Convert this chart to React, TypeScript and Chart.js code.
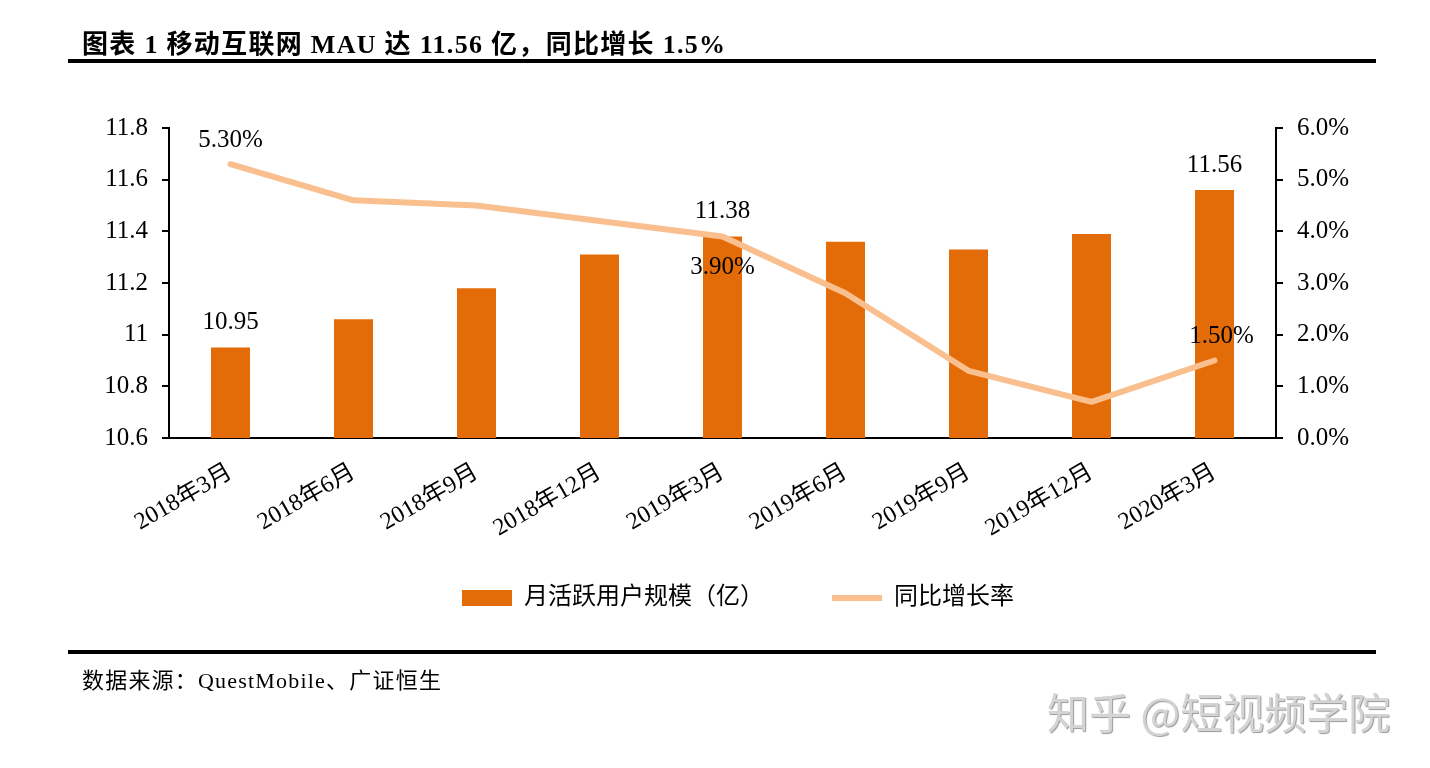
import React, { useEffect, useRef } from "react";
import { Chart, registerables } from "chart.js";

Chart.register(...registerables);

const categories = ["2018年3月", "2018年6月", "2018年9月", "2018年12月", "2019年3月", "2019年6月", "2019年9月", "2019年12月", "2020年3月"];
const mauValues = [10.95, 11.06, 11.18, 11.31, 11.38, 11.36, 11.33, 11.39, 11.56];
const growthValues = [5.3, 4.6, 4.5, 4.2, 3.9, 2.8, 1.3, 0.7, 1.5];
const barLabelIndices = [0, 4, 8];
const lineLabelIndices = [0, 4, 8];
const lineLabelBelow = [false, true, false];
const leftTicks = { min: 10.6, max: 11.8, step: 0.2 };
const rightTicks = { min: 0, max: 6, step: 1 };

const SERIF = "'Liberation Serif', 'Times New Roman', 'Noto Sans CJK SC', serif";
const BAR_COLOR = "#E36C09";
const LINE_COLOR = "#F9BF8F";
const LEGEND_SHIFT = 30;

const labelPlugin = {
  id: "valueLabels",
  afterLayout(chart: any) {
    const lg = chart.legend;
    if (lg) {
      lg.top -= LEGEND_SHIFT;
      lg.bottom -= LEGEND_SHIFT;
    }
  },
  afterDatasetsDraw(chart: any) {
    const ctx = chart.ctx;
    ctx.save();
    ctx.font = `25px ${SERIF}`;
    ctx.fillStyle = "#000";
    ctx.textAlign = "center";
    ctx.textBaseline = "middle";
    const barMeta = chart.getDatasetMeta(0);
    barLabelIndices.forEach((i) => {
      const el = barMeta.data[i];
      ctx.fillText(mauValues[i].toFixed(2), el.x, el.y - 25);
    });
    const lineMeta = chart.getDatasetMeta(1);
    lineLabelIndices.forEach((i, k) => {
      const el = lineMeta.data[i];
      const below = lineLabelBelow[k];
      const dx = i === categories.length - 1 ? 7 : 0;
      ctx.fillText(growthValues[i].toFixed(2) + "%", el.x + dx, below ? el.y + 31 : el.y - 24);
    });
    ctx.restore();
  },
};

export default function App() {
  const ref = useRef<HTMLCanvasElement>(null);

  useEffect(() => {
    if (!ref.current) return;
    const chart = new Chart(ref.current, {
      type: "bar",
      data: {
        labels: categories,
        datasets: [
          {
            type: "bar",
            label: "月活跃用户规模（亿）",
            data: mauValues,
            backgroundColor: BAR_COLOR,
            borderWidth: 0,
            yAxisID: "y",
            order: 1,
            categoryPercentage: 1,
            barPercentage: 0.317,
            pointStyle: "rect",
          } as any,
          {
            type: "line",
            label: "同比增长率",
            data: growthValues,
            borderColor: LINE_COLOR,
            backgroundColor: LINE_COLOR,
            borderWidth: 6,
            borderCapStyle: "round",
            borderJoinStyle: "round",
            pointRadius: 0,
            pointHoverRadius: 0,
            tension: 0,
            yAxisID: "y1",
            order: 0,
            pointStyle: "line",
          } as any,
        ],
      },
      options: {
        responsive: false,
        animation: false,
        events: [],
        layout: { padding: { top: 128, bottom: 148 - LEGEND_SHIFT, left: 46, right: 0 } },
        plugins: {
          tooltip: { enabled: false },
          title: { display: false },
          legend: {
            position: "bottom",
            labels: {
              usePointStyle: true,
              pointStyleWidth: 50,
              boxHeight: 16,
              padding: 68,
              color: "#000",
              font: { size: 24, family: SERIF },
              sort: (a: any, b: any) => a.datasetIndex - b.datasetIndex,
            },
          },
        },
        scales: {
          x: {
            offset: true,
            grid: { display: false, drawTicks: false },
            border: { display: true, color: "#000", width: 2 },
            ticks: {
              minRotation: 30,
              maxRotation: 30,
              padding: 20,
              color: "#000",
              font: { size: 24, family: SERIF },
              autoSkip: false,
            },
            afterFit: (s: any) => {
              s.height = 80 + LEGEND_SHIFT;
            },
          },
          y: {
            position: "left",
            min: leftTicks.min,
            max: leftTicks.max,
            grid: { drawOnChartArea: false, drawTicks: true, tickLength: 7, color: "#000", lineWidth: 2 },
            border: { display: true, color: "#000", width: 2 },
            ticks: {
              stepSize: leftTicks.step,
              padding: 14,
              color: "#000",
              font: { size: 25, family: SERIF },
              callback: (v: any) => String(Math.round(Number(v) * 10) / 10),
            },
            afterFit: (s: any) => {
              s.width = 123;
            },
          },
          y1: {
            position: "right",
            min: rightTicks.min,
            max: rightTicks.max,
            grid: { drawOnChartArea: false, drawTicks: true, tickLength: 7, color: "#000", lineWidth: 2 },
            border: { display: true, color: "#000", width: 2 },
            ticks: {
              stepSize: rightTicks.step,
              padding: 14,
              color: "#000",
              font: { size: 25, family: SERIF },
              callback: (v: any) => Number(v).toFixed(1) + "%",
            },
            afterFit: (s: any) => {
              s.width = 154;
            },
          },
        },
      },
      plugins: [labelPlugin],
    });
    return () => chart.destroy();
  }, []);

  return (
    <div style={{ position: "absolute", left: 0, top: 0, width: 1430, height: 768, background: "#fff", overflow: "hidden" }}>
      <canvas ref={ref} width={1430} height={768} style={{ position: "absolute", left: 0, top: 0 }} />
      <div
        style={{
          position: "absolute",
          left: 82,
          top: 23,
          fontFamily: SERIF,
          fontWeight: "bold",
          fontSize: 26,
          letterSpacing: 1.3,
          color: "#000",
          whiteSpace: "nowrap",
        }}
      >
        图表 1 移动互联网 MAU 达 11.56 亿，同比增长 1.5%
      </div>
      <div style={{ position: "absolute", left: 68, top: 59, width: 1308, height: 4, background: "#000" }} />
      <div style={{ position: "absolute", left: 68, top: 650, width: 1308, height: 4, background: "#000" }} />
      <div
        style={{
          position: "absolute",
          left: 82,
          top: 662,
          fontFamily: SERIF,
          fontSize: 22,
          letterSpacing: 1.2,
          color: "#000",
          whiteSpace: "nowrap",
        }}
      >
        数据来源：QuestMobile、广证恒生
      </div>
      <div
        style={{
          position: "absolute",
          left: 1047,
          top: 680,
          fontFamily: "'Noto Sans CJK SC', sans-serif",
          fontSize: 42,
          color: "#d4d4d4",
          textShadow: "1px 1px 1px #9a9a9a",
          whiteSpace: "nowrap",
        }}
      >
        知乎 @短视频学院
      </div>
    </div>
  );
}
